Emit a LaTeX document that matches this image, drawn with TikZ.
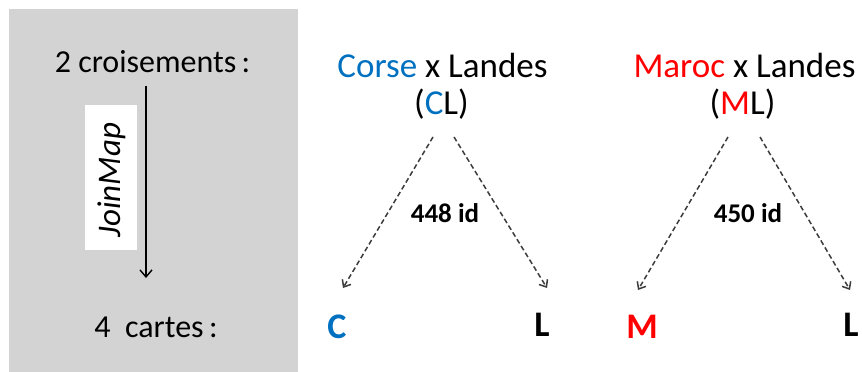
\documentclass[tikz,border=0pt]{standalone}
\usepackage{fontspec}
\setmainfont{Carlito}
\usetikzlibrary{arrows.meta}
\definecolor{panelgrey}{RGB}{211,211,211}
\definecolor{msblue}{RGB}{0,112,192}
\definecolor{msred}{RGB}{255,0,0}
\definecolor{dashgrey}{RGB}{60,60,60}
\tikzset{
  lefttext/.style={font=\fontsize{32}{38}\selectfont, inner sep=0pt},
  title/.style={font=\fontsize{35}{42}\selectfont, inner sep=0pt},
  idlabel/.style={font=\fontsize{27}{32}\selectfont\bfseries, inner sep=0pt},
  parent/.style={font=\fontsize{36}{42}\selectfont\bfseries, inner sep=0pt},
  dasharrow/.style={draw=dashgrey, line width=1.5pt, dash pattern=on 5pt off 3pt, -{Straight Barb[length=6pt,width=10pt]}},
  solidarrow/.style={draw=black, line width=1.4pt, -{Straight Barb[length=7pt,width=12pt]}}
}
\begin{document}
\begin{tikzpicture}[x=1pt,y=-1pt]
\useasboundingbox (0,0) rectangle (862,372);
% grey panel
\fill[panelgrey] (9,9) rectangle (298,372);
\node[lefttext] (cross) at (152.5,62) {2 croisements\,:};
\node[lefttext] (cartes) at (156,327) {4\ \ cartes\,:};
\fill[white] (85,105) rectangle (137,250);
\node[lefttext, rotate=90, font=\fontsize{33}{38}\selectfont\itshape] (join) at (112,180) {JoinMap};
\coordinate (a0) at (146,86);
\coordinate (a1) at (146,278);
\draw[solidarrow] (a0) -- (a1);

% Corse x Landes
\node[title] (cl1) at (442.5,65) {\textcolor{msblue}{Corse} x Landes};
\node[title] (cl2) at (441.5,104) {(\textcolor{msblue}{C}L)};
\coordinate (cls1) at (433,137);
\coordinate (cls2) at (454,137);
\coordinate (cle1) at (343,288);
\coordinate (cle2) at (547,288);
\draw[dasharrow] (cls1) -- (cle1);
\draw[dasharrow] (cls2) -- (cle2);
\node[idlabel] (id1) at (445,213) {448 id};
\node[parent, text=msblue] (C) at (337,327) {C};
\node[parent] (L1) at (542,325) {L};

% Maroc x Landes
\node[title] (ml1) at (744.5,65) {\textcolor{msred}{Maroc} x Landes};
\node[title] (ml2) at (742.5,104) {(\textcolor{msred}{M}L)};
\coordinate (mls1) at (728,137);
\coordinate (mls2) at (760,137);
\coordinate (mle1) at (638,290);
\coordinate (mle2) at (850,290);
\draw[dasharrow] (mls1) -- (mle1);
\draw[dasharrow] (mls2) -- (mle2);
\node[idlabel] (id2) at (748,213) {450 id};
\node[parent, text=msred] (M) at (642,327) {M};
\node[parent] (L2) at (851,325) {L};
\end{tikzpicture}
\end{document}
